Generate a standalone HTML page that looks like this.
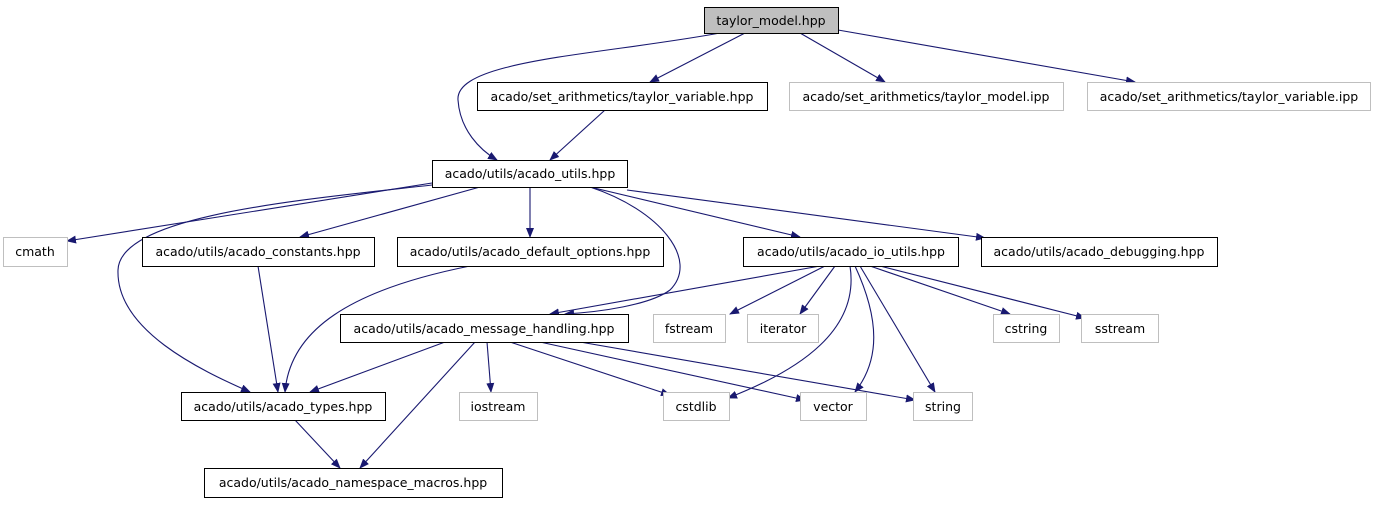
<!DOCTYPE html>
<html><head><meta charset="utf-8"><style>
body{margin:0;background:#fff;width:1376px;height:504px;overflow:hidden}
svg text{font-family:"DejaVu Sans","Liberation Sans",sans-serif;font-size:12.5px;fill:#000}
</style></head><body>
<svg width="1376" height="504" xmlns="http://www.w3.org/2000/svg">
<defs><marker id="a" markerWidth="10" markerHeight="8" refX="9" refY="4" orient="auto" markerUnits="userSpaceOnUse"><path d="M0,0 L10,4 L0,8 z" fill="#191970"/></marker></defs>
<g fill="none" stroke="#191970" stroke-width="1.1" marker-end="url(#a)">
<path d="M720,33 C600,55 455,60 458,100 C460,130 480,150 497,160"/>
<path d="M745,33 L650,82"/>
<path d="M800,33 L885,82"/>
<path d="M838,30 L1135,82"/>
<path d="M605,110 L550,160"/>
<path d="M432,183 L67,241"/>
<path d="M432,185 C300,200 120,215 118,270 C116,330 200,370 250,392"/>
<path d="M480,187 L300,237"/>
<path d="M530,187 L530,237"/>
<path d="M590,187 C660,210 700,260 670,290 C650,305 600,312 565,314"/>
<path d="M590,187 L800,237"/>
<path d="M627,190 L985,238"/>
<path d="M258,266 L278,392"/>
<path d="M470,266 C350,290 290,330 285,392"/>
<path d="M820,266 L550,314"/>
<path d="M825,266 L730,314"/>
<path d="M835,266 L800,314"/>
<path d="M850,266 C860,330 800,370 728,398"/>
<path d="M855,266 C880,320 880,360 855,392"/>
<path d="M860,266 L935,392"/>
<path d="M870,266 L1010,314"/>
<path d="M880,266 L1085,318"/>
<path d="M445,342 L310,392"/>
<path d="M487,342 L491,392"/>
<path d="M510,342 L670,395"/>
<path d="M540,342 L805,400"/>
<path d="M580,342 L915,400"/>
<path d="M475,342 L360,468"/>
<path d="M295,420 L340,468"/>
</g>
<g stroke-width="1">
<rect x="704.5" y="7.5" width="134" height="26" fill="#bfbfbf" stroke="#000"/>
<rect x="477.5" y="82.5" width="290" height="28" fill="#fff" stroke="#000"/>
<rect x="789.5" y="82.5" width="274" height="28" fill="#fff" stroke="#bfbfbf"/>
<rect x="1087.5" y="82.5" width="283" height="28" fill="#fff" stroke="#bfbfbf"/>
<rect x="432.5" y="160.5" width="195" height="27" fill="#fff" stroke="#000"/>
<rect x="3.5" y="237.5" width="64" height="29" fill="#fff" stroke="#bfbfbf"/>
<rect x="142.5" y="237.5" width="232" height="29" fill="#fff" stroke="#000"/>
<rect x="397.5" y="237.5" width="266" height="29" fill="#fff" stroke="#000"/>
<rect x="743.5" y="237.5" width="215" height="29" fill="#fff" stroke="#000"/>
<rect x="981.5" y="237.5" width="236" height="29" fill="#fff" stroke="#000"/>
<rect x="340.5" y="314.5" width="288" height="28" fill="#fff" stroke="#000"/>
<rect x="653.5" y="314.5" width="72" height="28" fill="#fff" stroke="#bfbfbf"/>
<rect x="747.5" y="314.5" width="71" height="28" fill="#fff" stroke="#bfbfbf"/>
<rect x="993.5" y="314.5" width="66" height="28" fill="#fff" stroke="#bfbfbf"/>
<rect x="1081.5" y="314.5" width="77" height="28" fill="#fff" stroke="#bfbfbf"/>
<rect x="181.5" y="392.5" width="204" height="28" fill="#fff" stroke="#000"/>
<rect x="459.5" y="392.5" width="78" height="28" fill="#fff" stroke="#bfbfbf"/>
<rect x="663.5" y="392.5" width="66" height="28" fill="#fff" stroke="#bfbfbf"/>
<rect x="800.5" y="392.5" width="66" height="28" fill="#fff" stroke="#bfbfbf"/>
<rect x="913.5" y="392.5" width="59" height="28" fill="#fff" stroke="#bfbfbf"/>
<rect x="204.5" y="468.5" width="298" height="29" fill="#fff" stroke="#000"/>
</g>
<g text-anchor="middle">
<text x="771" y="25">taylor_model.hpp</text>
<text x="622" y="101">acado/set_arithmetics/taylor_variable.hpp</text>
<text x="926" y="101">acado/set_arithmetics/taylor_model.ipp</text>
<text x="1229" y="101">acado/set_arithmetics/taylor_variable.ipp</text>
<text x="530" y="178">acado/utils/acado_utils.hpp</text>
<text x="35" y="256">cmath</text>
<text x="258" y="256">acado/utils/acado_constants.hpp</text>
<text x="530" y="256">acado/utils/acado_default_options.hpp</text>
<text x="851" y="256">acado/utils/acado_io_utils.hpp</text>
<text x="1099" y="256">acado/utils/acado_debugging.hpp</text>
<text x="484" y="333">acado/utils/acado_message_handling.hpp</text>
<text x="689" y="333">fstream</text>
<text x="783" y="333">iterator</text>
<text x="1026" y="333">cstring</text>
<text x="1120" y="333">sstream</text>
<text x="283" y="411">acado/utils/acado_types.hpp</text>
<text x="498" y="411">iostream</text>
<text x="696" y="411">cstdlib</text>
<text x="833" y="411">vector</text>
<text x="943" y="411">string</text>
<text x="353" y="487">acado/utils/acado_namespace_macros.hpp</text>
</g>
</svg>
</body></html>
